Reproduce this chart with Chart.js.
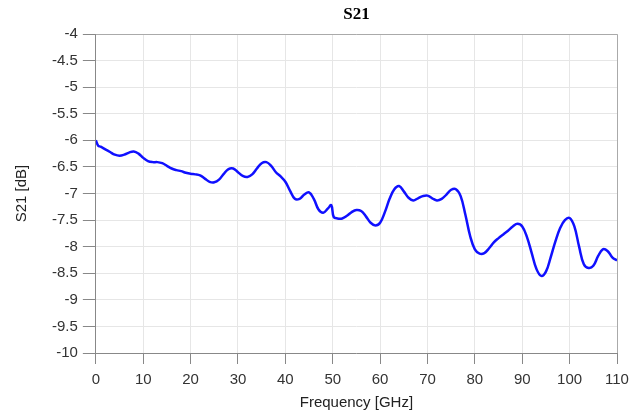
<!DOCTYPE html>
<html>
<head>
<meta charset="utf-8">
<script src="https://cdn.jsdelivr.net/npm/chart.js@4"></script>
<style>
  html, body { margin: 0; padding: 0; background: #fff; }
</style>
</head>
<body>
<canvas id="s21Chart" width="641" height="410"></canvas>
<script>
// frequencia (GHz) e valores de S21 (dB)
const freq = [0, 0.5, 1, 2, 3, 4, 5, 6, 7, 8, 9, 10, 11, 12, 13, 14, 15, 16, 17, 18, 19, 20,
  21, 22, 23, 24, 25, 26, 27, 28, 29, 30, 31, 32, 33, 34, 35, 36, 37, 38, 39, 40,
  41, 42, 43, 44, 45, 46, 47, 48, 49, 49.7, 50.2, 51, 52, 53, 54, 55, 56, 57, 58, 59, 60,
  61, 62, 63, 64, 65, 66, 67, 68, 69, 70, 71, 72, 73, 74, 75, 76, 77, 78, 79, 80,
  81, 82, 83, 84, 85, 86, 87, 88, 89, 90, 91, 92, 93, 94, 95, 96, 97, 98, 99, 100,
  101, 102, 103, 104, 105, 106, 107, 108, 109, 110];
const s21 = [-6.0, -6.1, -6.12, -6.17, -6.22, -6.27, -6.29, -6.27, -6.23, -6.21, -6.25, -6.33, -6.39, -6.41, -6.41, -6.43, -6.48, -6.53, -6.56, -6.58, -6.61, -6.63,
  -6.64, -6.66, -6.72, -6.78, -6.79, -6.74, -6.63, -6.54, -6.53, -6.6, -6.67, -6.69, -6.64, -6.53, -6.43, -6.41, -6.48, -6.6, -6.68, -6.78,
  -6.95, -7.1, -7.1, -7.02, -6.98, -7.1, -7.3, -7.36, -7.28, -7.22, -7.44, -7.47, -7.47, -7.42, -7.35, -7.31, -7.33, -7.43, -7.55, -7.6, -7.55,
  -7.35, -7.1, -6.92, -6.86, -6.96, -7.08, -7.13, -7.09, -7.05, -7.04, -7.09, -7.13, -7.1, -7.02, -6.93, -6.92, -7.05, -7.4, -7.8, -8.05,
  -8.13, -8.12, -8.03, -7.92, -7.84, -7.77, -7.7, -7.62, -7.57, -7.62, -7.82, -8.12, -8.42, -8.55, -8.47, -8.2, -7.9, -7.65, -7.5, -7.46,
  -7.62, -8.0, -8.33, -8.4, -8.36, -8.18, -8.05, -8.08, -8.2, -8.26];

const xMin = 0, xMax = 110, xStep = 10;
const yMin = -10, yMax = -4, yStep = 0.5;
const chartTitle = "S21";

// título centrado sobre a área do gráfico + moldura em cima e à direita
const frameBox = {
  id: "frameBox",
  afterDraw(chart) {
    const { ctx, chartArea } = chart;
    ctx.save();
    ctx.strokeStyle = "#aaaaaa";
    ctx.lineWidth = 1;
    ctx.beginPath();
    ctx.moveTo(chartArea.left, chartArea.top + 0.5);
    ctx.lineTo(chartArea.right + 0.5, chartArea.top + 0.5);
    ctx.lineTo(chartArea.right + 0.5, chartArea.bottom);
    ctx.stroke();

    ctx.fillStyle = "#000";
    ctx.font = "bold 17px 'Liberation Serif', 'Times New Roman', serif";
    ctx.textAlign = "center";
    ctx.textBaseline = "middle";
    ctx.fillText(chartTitle, (chartArea.left + chartArea.right) / 2, 15);
    ctx.restore();
  },
};

const labelFont = { family: "'Liberation Sans', Arial, sans-serif", size: 15 };

new Chart(document.getElementById("s21Chart"), {
  type: "line",
  data: {
    datasets: [
      {
        label: "S21",
        data: freq.map((f, i) => ({ x: f, y: s21[i] })),
        borderColor: "#1010ff",
        borderWidth: 2.5,
        pointRadius: 0,
        tension: 0.4,
        fill: false,
      },
    ],
  },
  options: {
    responsive: false,
    animation: false,
    layout: { padding: { left: 13, right: 24, top: 34, bottom: 0 } },
    plugins: {
      legend: { display: false },
      tooltip: { enabled: false },
      title: { display: false },
    },
    scales: {
      x: {
        type: "linear",
        min: xMin,
        max: xMax,
        ticks: { stepSize: xStep, color: "#333", font: labelFont, padding: 7, maxRotation: 0 },
        grid: { color: "#e6e6e6", tickColor: "#888", tickLength: 11 },
        border: { color: "#888", width: 1 },
        title: {
          display: true,
          text: "Frequency [GHz]",
          color: "#222",
          font: { ...labelFont, lineHeight: 1 },
          padding: { top: -1, bottom: 0 },
        },
      },
      y: {
        type: "linear",
        min: yMin,
        max: yMax,
        ticks: {
          stepSize: yStep,
          color: "#333",
          font: labelFont,
          padding: 5,
          callback: (v) => String(v),
        },
        grid: { color: "#e6e6e6", tickColor: "#888", tickLength: 13 },
        border: { color: "#888", width: 1 },
        title: { display: true, text: "S21 [dB]", color: "#222", font: labelFont, padding: { top: 0, bottom: 16 } },
      },
    },
  },
  plugins: [frameBox],
});
</script>
</body>
</html>
